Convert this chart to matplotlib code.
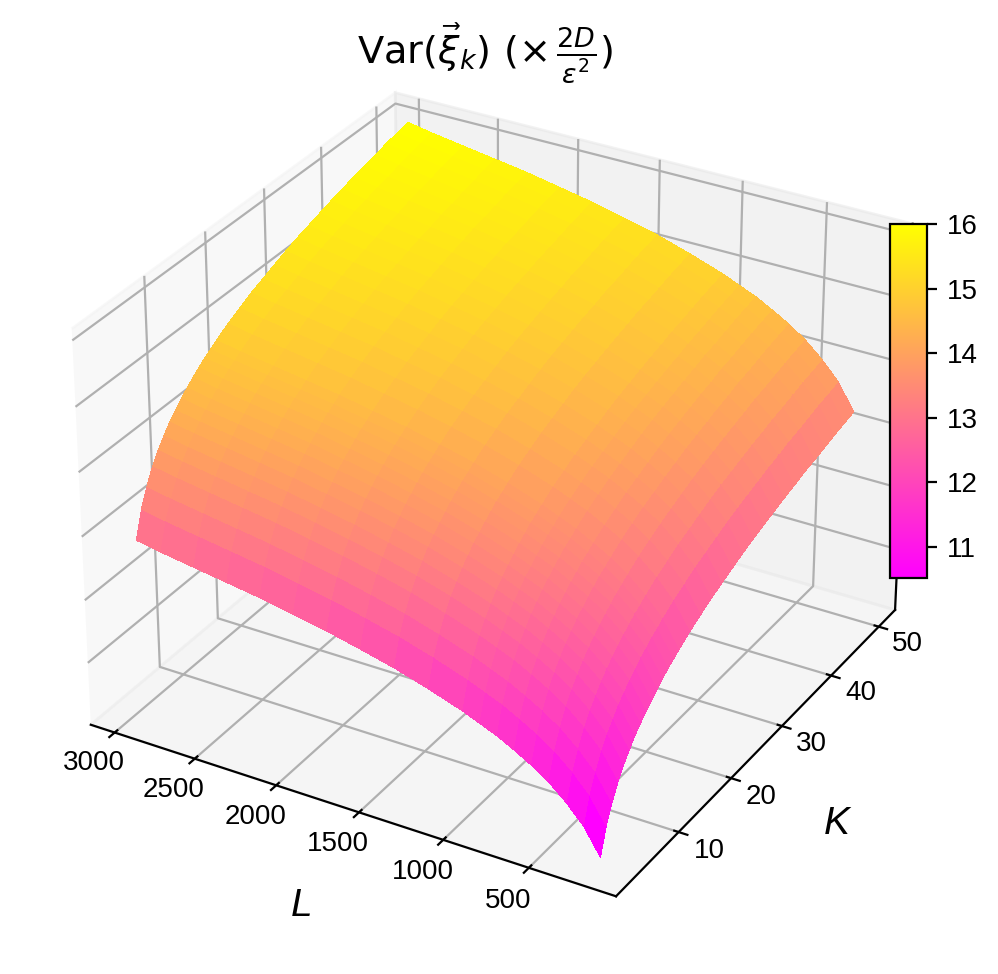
import numpy as np
import matplotlib
matplotlib.use('Agg')
import matplotlib.pyplot as plt

plt.rcParams['font.family'] = ['Liberation Sans', 'DejaVu Sans']

L_vals = [200, 300, 400, 500, 600, 700, 800, 900, 1000, 1200, 1400, 1600, 1800, 2000, 2200, 2400, 2600, 2800, 2950]
K_vals = [2, 3, 4, 5, 6, 7, 8, 9, 10, 11, 12, 13, 14, 15, 16, 18, 20, 22, 24, 26, 28, 30, 32, 34, 36, 38, 40, 42, 44, 46, 48, 50]

var_200 = [10.12, 10.53, 10.81, 11.04, 11.22, 11.37, 11.51, 11.62, 11.73, 11.82, 11.91, 11.99, 12.07, 12.13, 12.20, 12.32, 12.42, 12.52, 12.60, 12.68, 12.76, 12.83, 12.89, 12.95, 13.01, 13.06, 13.12, 13.16, 13.21, 13.26, 13.30, 13.34]
var_300 = [10.53, 10.94, 11.22, 11.45, 11.63, 11.78, 11.92, 12.03, 12.14, 12.23, 12.32, 12.40, 12.48, 12.54, 12.61, 12.73, 12.83, 12.93, 13.01, 13.09, 13.17, 13.24, 13.30, 13.36, 13.42, 13.47, 13.53, 13.57, 13.62, 13.67, 13.71, 13.75]
var_400 = [10.81, 11.22, 11.50, 11.73, 11.91, 12.06, 12.20, 12.31, 12.42, 12.51, 12.60, 12.68, 12.76, 12.82, 12.89, 13.01, 13.11, 13.21, 13.29, 13.37, 13.45, 13.52, 13.58, 13.64, 13.70, 13.75, 13.81, 13.85, 13.90, 13.95, 13.99, 14.03]
var_500 = [11.04, 11.45, 11.73, 11.96, 12.14, 12.29, 12.43, 12.54, 12.65, 12.74, 12.83, 12.91, 12.99, 13.05, 13.12, 13.24, 13.34, 13.44, 13.52, 13.60, 13.68, 13.75, 13.81, 13.87, 13.93, 13.98, 14.04, 14.08, 14.13, 14.18, 14.22, 14.26]
var_600 = [11.22, 11.63, 11.91, 12.14, 12.32, 12.47, 12.61, 12.72, 12.83, 12.92, 13.01, 13.09, 13.17, 13.23, 13.30, 13.42, 13.52, 13.62, 13.70, 13.78, 13.86, 13.93, 13.99, 14.05, 14.11, 14.16, 14.22, 14.26, 14.31, 14.36, 14.40, 14.44]
var_700 = [11.37, 11.78, 12.06, 12.29, 12.47, 12.62, 12.76, 12.87, 12.98, 13.07, 13.16, 13.24, 13.32, 13.38, 13.45, 13.57, 13.67, 13.77, 13.85, 13.93, 14.01, 14.08, 14.14, 14.20, 14.26, 14.31, 14.37, 14.41, 14.46, 14.51, 14.55, 14.59]
var_800 = [11.51, 11.92, 12.20, 12.43, 12.61, 12.76, 12.90, 13.01, 13.12, 13.21, 13.30, 13.38, 13.46, 13.52, 13.59, 13.71, 13.81, 13.91, 13.99, 14.07, 14.15, 14.22, 14.28, 14.34, 14.40, 14.45, 14.51, 14.55, 14.60, 14.65, 14.69, 14.73]
var_900 = [11.62, 12.03, 12.31, 12.54, 12.72, 12.87, 13.01, 13.12, 13.23, 13.32, 13.41, 13.49, 13.57, 13.63, 13.70, 13.82, 13.92, 14.02, 14.10, 14.18, 14.26, 14.33, 14.39, 14.45, 14.51, 14.56, 14.62, 14.66, 14.71, 14.76, 14.80, 14.84]
var_1000 = [11.73, 12.14, 12.42, 12.65, 12.83, 12.98, 13.12, 13.23, 13.34, 13.43, 13.52, 13.60, 13.68, 13.74, 13.81, 13.93, 14.03, 14.13, 14.21, 14.29, 14.37, 14.44, 14.50, 14.56, 14.62, 14.67, 14.73, 14.77, 14.82, 14.87, 14.91, 14.95]
var_1200 = [11.91, 12.32, 12.60, 12.83, 13.01, 13.16, 13.30, 13.41, 13.52, 13.61, 13.70, 13.78, 13.86, 13.92, 13.99, 14.11, 14.21, 14.31, 14.39, 14.47, 14.55, 14.62, 14.68, 14.74, 14.80, 14.85, 14.91, 14.95, 15.00, 15.05, 15.09, 15.13]
var_1400 = [12.07, 12.48, 12.76, 12.99, 13.17, 13.32, 13.46, 13.57, 13.68, 13.77, 13.86, 13.94, 14.02, 14.08, 14.15, 14.27, 14.37, 14.47, 14.55, 14.63, 14.71, 14.78, 14.84, 14.90, 14.96, 15.01, 15.07, 15.11, 15.16, 15.21, 15.25, 15.29]
var_1600 = [12.20, 12.61, 12.89, 13.12, 13.30, 13.45, 13.59, 13.70, 13.81, 13.90, 13.99, 14.07, 14.15, 14.21, 14.28, 14.40, 14.50, 14.60, 14.68, 14.76, 14.84, 14.91, 14.97, 15.03, 15.09, 15.14, 15.20, 15.24, 15.29, 15.34, 15.38, 15.42]
var_1800 = [12.32, 12.73, 13.01, 13.24, 13.42, 13.57, 13.71, 13.82, 13.93, 14.02, 14.11, 14.19, 14.27, 14.33, 14.40, 14.52, 14.62, 14.72, 14.80, 14.88, 14.96, 15.03, 15.09, 15.15, 15.21, 15.26, 15.32, 15.36, 15.41, 15.46, 15.50, 15.54]
var_2000 = [12.42, 12.83, 13.11, 13.34, 13.52, 13.67, 13.81, 13.92, 14.03, 14.12, 14.21, 14.29, 14.37, 14.43, 14.50, 14.62, 14.72, 14.82, 14.90, 14.98, 15.06, 15.13, 15.19, 15.25, 15.31, 15.36, 15.42, 15.46, 15.51, 15.56, 15.60, 15.64]
var_2200 = [12.52, 12.93, 13.21, 13.44, 13.62, 13.77, 13.91, 14.02, 14.13, 14.22, 14.31, 14.39, 14.47, 14.53, 14.60, 14.72, 14.82, 14.92, 15.00, 15.08, 15.16, 15.23, 15.29, 15.35, 15.41, 15.46, 15.52, 15.56, 15.61, 15.66, 15.70, 15.74]
var_2400 = [12.60, 13.01, 13.29, 13.52, 13.70, 13.85, 13.99, 14.10, 14.21, 14.30, 14.39, 14.47, 14.55, 14.61, 14.68, 14.80, 14.90, 15.00, 15.08, 15.16, 15.24, 15.31, 15.37, 15.43, 15.49, 15.54, 15.60, 15.64, 15.69, 15.74, 15.78, 15.82]
var_2600 = [12.68, 13.09, 13.37, 13.60, 13.78, 13.93, 14.07, 14.18, 14.29, 14.38, 14.47, 14.55, 14.63, 14.69, 14.76, 14.88, 14.98, 15.08, 15.16, 15.24, 15.32, 15.39, 15.45, 15.51, 15.57, 15.62, 15.68, 15.72, 15.77, 15.82, 15.86, 15.90]
var_2800 = [12.76, 13.17, 13.45, 13.68, 13.86, 14.01, 14.15, 14.26, 14.37, 14.46, 14.55, 14.63, 14.71, 14.77, 14.84, 14.96, 15.06, 15.16, 15.24, 15.32, 15.40, 15.47, 15.53, 15.59, 15.65, 15.70, 15.76, 15.80, 15.85, 15.90, 15.94, 15.98]
var_2950 = [12.83, 13.24, 13.52, 13.75, 13.93, 14.08, 14.22, 14.33, 14.44, 14.53, 14.62, 14.70, 14.78, 14.84, 14.91, 15.03, 15.13, 15.23, 15.31, 15.39, 15.47, 15.54, 15.60, 15.66, 15.72, 15.77, 15.83, 15.87, 15.92, 15.97, 16.01, 16.05]

Z = np.array([var_200, var_300, var_400, var_500, var_600, var_700, var_800, var_900, var_1000,
              var_1200, var_1400, var_1600, var_1800, var_2000, var_2200, var_2400, var_2600, var_2800, var_2950])
X, Y = np.meshgrid(L_vals, K_vals, indexing='ij')

fig = plt.figure(figsize=(4.99, 4.87), dpi=200)
ax = fig.add_axes([0.0087, 0.0192, 0.96, 0.96], projection='3d')

surf = ax.plot_surface(X, Y, Z, cmap='spring', linewidth=0, antialiased=False,
                       rstride=1, cstride=1, vmin=10.52, vmax=16)
ax.invert_xaxis()
ax.set_xticks([500, 1000, 1500, 2000, 2500, 3000])
ax.set_yticks([10, 20, 30, 40, 50])
ax.set_zticks([11, 12, 13, 14, 15, 16])
ax.set_zticklabels([])
ax.tick_params(axis='x', labelsize=10, pad=3.5)
ax.tick_params(axis='y', labelsize=10, pad=2)
ax.tick_params(axis='z', length=0)

for lab in ax.get_xticklabels() + ax.get_yticklabels():
    lab.set_va('bottom')

ax.set_xlabel('L', fontsize=14, style='italic')
ax.set_ylabel('K', fontsize=14, style='italic')

fig.text(0.486, 0.945, r'$\mathrm{Var}(\vec{\xi}_k)\ (\times\,\frac{2D}{\epsilon^2})$',
         fontsize=13.8, ha='center', va='center', family='DejaVu Sans')

cax = fig.add_axes([890 / 998, 1 - 578 / 974, 37 / 998, 354 / 974])
cbar = fig.colorbar(surf, cax=cax)
cbar.set_ticks([11, 12, 13, 14, 15, 16])
cbar.ax.tick_params(labelsize=10)

fig.savefig('out.png', dpi=200)
